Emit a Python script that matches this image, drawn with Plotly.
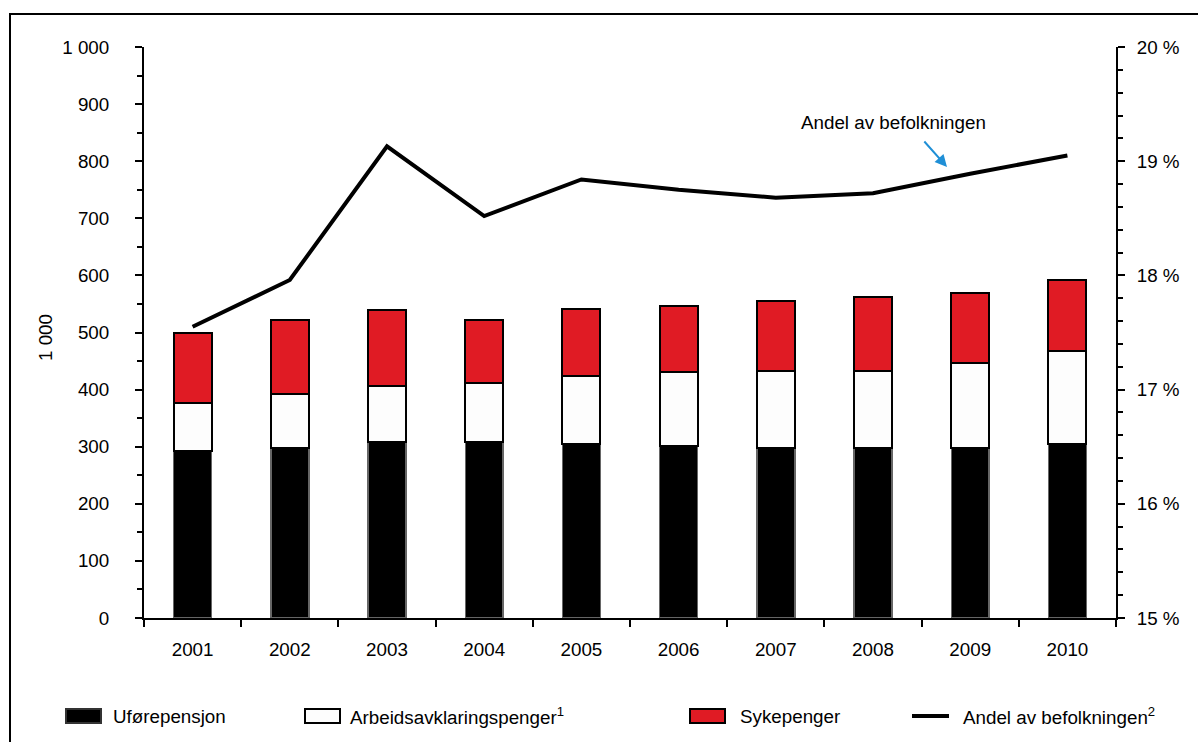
import plotly.graph_objects as go

# Data (thousands of persons, share of population in %)
years = ["2001", "2002", "2003", "2004", "2005", "2006", "2007", "2008", "2009", "2010"]
uforepensjon = [292, 298, 308, 308, 304, 301, 298, 298, 298, 305]
arbeidsavklaring = [84, 95, 98, 104, 120, 129, 135, 135, 148, 163]
sykepenger = [123, 129, 134, 110, 117, 116, 123, 129, 124, 124]
andel_pct = [17.55, 17.96, 19.13, 18.52, 18.84, 18.75, 18.68, 18.72, 18.89, 19.05]

left_tickvals = [0, 100, 200, 300, 400, 500, 600, 700, 800, 900, 1000]
left_ticktext = ["0", "100", "200", "300", "400", "500", "600", "700", "800", "900", "1 000"]
right_tickvals = [15, 16, 17, 18, 19, 20]
right_ticktext = ["15 %", "16 %", "17 %", "18 %", "19 %", "20 %"]

legend_labels = ["Uførepensjon", "Arbeidsavklaringspenger<sup>1</sup>", "Sykepenger",
                 "Andel av befolkningen<sup>2</sup>"]

FONT = "Liberation Sans, Arial, sans-serif"
FS = 18.8
RED = "#e01b24"
BLACK = "#000000"
WHITE = "#fdfdfd"
BLUE = "#1f8fd6"

W, H = 1198, 742
ML, MR, MT, MB = 144, 82, 47, 124
PW, PH = W - ML - MR, H - MT - MB


def px_x(p):
    return (p - ML) / PW


def px_y(p):
    return (H - MB - p) / PH


fig = go.Figure()

bar_w = 0.39
fig.add_trace(go.Bar(x=years, y=uforepensjon, name=legend_labels[0], width=bar_w,
                     marker=dict(color=BLACK, line=dict(color="#666666", width=1.5))))
fig.add_trace(go.Bar(x=years, y=arbeidsavklaring, name=legend_labels[1], width=bar_w,
                     marker=dict(color=WHITE, line=dict(color=BLACK, width=2))))
fig.add_trace(go.Bar(x=years, y=sykepenger, name=legend_labels[2], width=bar_w,
                     marker=dict(color=RED, line=dict(color=BLACK, width=2))))
fig.add_trace(go.Scatter(x=years, y=andel_pct, name=legend_labels[3], yaxis="y2",
                         mode="lines", line=dict(color=BLACK, width=4)))

tickfont = dict(family=FONT, size=FS, color="#000")

fig.update_layout(
    width=W, height=H,
    margin=dict(l=ML, r=MR, t=MT, b=MB, autoexpand=False),
    barmode="stack",
    showlegend=False,
    plot_bgcolor="white",
    paper_bgcolor="white",
    font=dict(family=FONT, size=FS, color="#000"),
    xaxis=dict(
        type="category", range=[-0.5, 9.5], showgrid=False, zeroline=False,
        showline=True, linecolor=BLACK, linewidth=2,
        ticks="outside", tickson="boundaries", ticklen=7, tickwidth=2, tickcolor=BLACK,
        tickfont=tickfont, ticklabelstandoff=13,
    ),
    yaxis=dict(
        range=[0, 1000], showgrid=False, zeroline=False,
        showline=True, linecolor=BLACK, linewidth=2,
        tickvals=left_tickvals, ticktext=left_ticktext,
        ticks="outside", ticklen=7, tickwidth=2, tickcolor=BLACK,
        minor=dict(dtick=50, ticks="outside", ticklen=5, tickwidth=2, tickcolor=BLACK, showgrid=False),
        tickfont=tickfont, ticklabelstandoff=22,
    ),
    yaxis2=dict(
        range=[15, 20], overlaying="y", side="right", showgrid=False, zeroline=False,
        showline=True, linecolor=BLACK, linewidth=2,
        tickvals=right_tickvals, ticktext=right_ticktext,
        ticks="outside", ticklen=7, tickwidth=2, tickcolor=BLACK,
        minor=dict(dtick=0.2, ticks="outside", ticklen=5, tickwidth=2, tickcolor=BLACK, showgrid=False),
        tickfont=tickfont, ticklabelstandoff=8,
    ),
)

shapes = []
annotations = []

# Outer frame
shapes.append(dict(type="rect", xref="paper", yref="paper",
                   x0=px_x(10), x1=px_x(1215), y0=px_y(760), y1=px_y(14),
                   line=dict(color=BLACK, width=2), fillcolor="rgba(0,0,0,0)", layer="below"))

# Left axis unit title
annotations.append(dict(text="1 000", xref="paper", yref="paper", x=px_x(45), y=px_y(338),
                        xanchor="center", yanchor="middle",
                        textangle=-90, showarrow=False, font=dict(family=FONT, size=FS)))

# Line label with arrow
annotations.append(dict(text="Andel av befolkningen", xref="paper", yref="paper",
                        x=px_x(893), y=px_y(123), xanchor="center", yanchor="middle",
                        showarrow=False, font=dict(family=FONT, size=FS)))
annotations.append(dict(text="", xref="paper", yref="paper", x=px_x(947), y=px_y(167),
                        ax=-24, ay=-27, showarrow=True, arrowhead=2, arrowsize=1.2,
                        arrowwidth=2, arrowcolor=BLUE))

# Bottom legend
leg_y = 716
box_specs = [(66, BLACK, "#333333"), (305, WHITE, BLACK), (690, RED, BLACK)]
text_x = [111, 348, 738, 961]
for (x0, fill, edge) in box_specs:
    shapes.append(dict(type="rect", xref="paper", yref="paper",
                       x0=px_x(x0), x1=px_x(x0 + 35), y0=px_y(leg_y + 7), y1=px_y(leg_y - 7),
                       fillcolor=fill, line=dict(color=edge, width=2)))
shapes.append(dict(type="line", xref="paper", yref="paper",
                   x0=px_x(912), x1=px_x(949), y0=px_y(leg_y), y1=px_y(leg_y),
                   line=dict(color=BLACK, width=4)))
for tx, lab in zip(text_x, legend_labels):
    annotations.append(dict(text=lab, xref="paper", yref="paper", x=px_x(tx), y=px_y(leg_y),
                            xanchor="left", yanchor="middle", showarrow=False,
                            font=dict(family=FONT, size=FS)))

fig.update_layout(shapes=shapes, annotations=annotations)

fig.write_html("out.html")
